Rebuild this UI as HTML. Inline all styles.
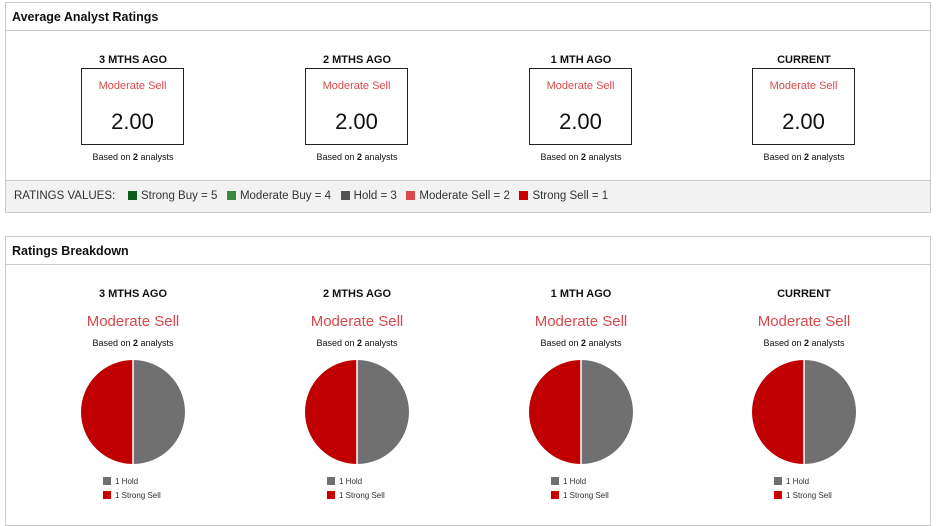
<!DOCTYPE html>
<html><head><style>
body{margin:0;width:945px;height:512px;overflow:hidden;background:#fff;font-family:"Liberation Sans",sans-serif;color:#111;position:relative}
.a{position:absolute}
.panel{position:absolute;left:5px;width:926px;border:1px solid #ccc;box-sizing:border-box}
.hd{position:absolute;left:0;right:0;top:0;height:27px;border-bottom:1px solid #ccc;font-weight:bold;font-size:12.5px;line-height:29px;padding-left:6px}
.c{position:absolute;text-align:center;width:200px}
.t{font-weight:bold;font-size:11px}
.box{position:absolute;width:103px;height:77px;border:1px solid #222;box-sizing:border-box;text-align:center}
.ms{color:#d9484c;font-size:11px}
.b{font-size:9px}
.sq{display:inline-block;width:9px;height:9px;vertical-align:-1px;margin-right:4px}
.lg{position:absolute;font-size:8px;color:#333}
</style></head><body>
<div class="panel" style="top:2px;height:211px">
<div class="hd">Average Analyst Ratings</div>
<div class="a" style="left:0;right:0;top:177px;bottom:0;background:#f2f2f2;border-top:1px solid #ccc;font-size:11.5px;line-height:30px;padding-left:8px;color:#333">RATINGS VALUES:&nbsp;&nbsp;&nbsp;&nbsp;<span class="sq" style="background:#0d5c1a"></span>Strong Buy = 5&nbsp;&nbsp;&nbsp;<span class="sq" style="background:#3a8a3e"></span>Moderate Buy = 4&nbsp;&nbsp;&nbsp;<span class="sq" style="background:#555"></span>Hold = 3&nbsp;&nbsp;&nbsp;<span class="sq" style="background:#d9484c"></span>Moderate Sell = 2&nbsp;&nbsp;&nbsp;<span class="sq" style="background:#c00"></span>Strong Sell = 1</div>
</div>
<div class="panel" style="top:236px;height:290px">
<div class="hd">Ratings Breakdown</div>
</div>
<div id="cols"></div>
<script>
var xs=[133,357,581,804],ts=["3 MTHS AGO","2 MTHS AGO","1 MTH AGO","CURRENT"],h="";
for(var i=0;i<4;i++){var x=xs[i];
h+='<div class="c t" style="left:'+(x-100)+'px;top:54px">'+ts[i]+'</div>';
h+='<div class="box" style="left:'+(x-52)+'px;top:68px"><div class="ms" style="margin-top:11px">Moderate Sell</div><div style="font-size:22px;margin-top:17px">2.00</div></div>';
h+='<div class="c b" style="left:'+(x-100)+'px;top:152px">Based on <b>2</b> analysts</div>';
h+='<div class="c t" style="left:'+(x-100)+'px;top:288px">'+ts[i]+'</div>';
h+='<div class="c ms" style="left:'+(x-100)+'px;top:313px;font-size:15px">Moderate Sell</div>';
h+='<div class="c b" style="left:'+(x-100)+'px;top:338px">Based on <b>2</b> analysts</div>';
h+='<svg class="a" style="left:'+(x-53)+'px;top:359px" width="106" height="106"><path d="M53 1A52 52 0 0 1 53 105Z" fill="#707070"/><path d="M53 1A52 52 0 0 0 53 105Z" fill="#c00000"/><line x1="53" y1="1" x2="53" y2="105" stroke="#fff" stroke-width="1.5"/></svg>';
h+='<div class="lg" style="left:'+(x-30)+'px;top:477px"><span class="sq" style="background:#707070;width:8px;height:8px"></span>1 Hold</div>';
h+='<div class="lg" style="left:'+(x-30)+'px;top:491px"><span class="sq" style="background:#c00;width:8px;height:8px"></span>1 Strong Sell</div>';}
document.getElementById('cols').innerHTML=h;
</script>
</body></html>
